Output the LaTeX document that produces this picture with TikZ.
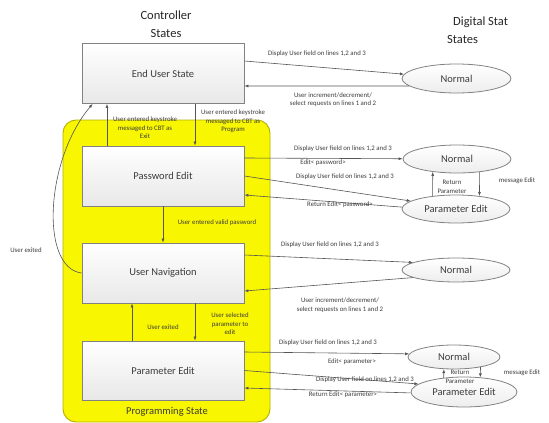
\documentclass[tikz,border=0pt]{standalone}
\usepackage{fontspec}
\setmainfont{Carlito}
\usetikzlibrary{arrows.meta,calc,shapes.geometric}

\definecolor{ylw}{RGB}{248,246,0}
\definecolor{ylwedge}{RGB}{180,176,0}
\definecolor{edge}{RGB}{130,130,130}
\definecolor{ink}{RGB}{60,60,60}
\definecolor{wire}{RGB}{85,85,85}

\begin{document}
\begin{tikzpicture}[x=1pt,y=-1pt,
  state/.style={draw=edge, line width=0.8pt, top color=white, bottom color=gray!18,
    minimum width=162pt, minimum height=60pt, inner sep=0pt,
    font=\fontsize{10.5}{12}\selectfont, text=ink},
  dstate/.style={ellipse, draw=edge, line width=0.8pt, top color=white, bottom color=gray!14,
    inner sep=0pt, font=\fontsize{10.5}{12}\selectfont, text=ink},
  arr/.style={draw=wire, line width=0.6pt, -{Latex[length=4pt,width=3pt]}},
  lbl/.style={font=\fontsize{6.8}{8.5}\selectfont, text=ink, align=center, inner sep=0pt},
  title/.style={font=\fontsize{12.5}{18}\selectfont, text=black!85, inner sep=0pt},
]
\useasboundingbox (0,0) rectangle (549,423);

% programming-state container
\path[fill=ylw, draw=ylwedge, line width=0.9pt, rounded corners=13pt] (63,120) rectangle (270,422);
\node[font=\fontsize{10.5}{12}\selectfont, text=ink, inner sep=0pt] (prog) at (167,412) {Programming State};

% headings
\node[title, align=center] (hctl) at (166,24) {Controller\\States};
\node[title, align=left, anchor=north west] (hdig) at (447,17) {\hspace{6pt}Digital Stat\\States};

% controller states
\node[state] (eus) at (163,73.5) {End User State};
\node[state] (pwd) at (163,176) {Password Edit};
\node[state] (nav) at (163,273) {User Navigation};
\node[state, minimum height=59pt] (par) at (163,370.5) {Parameter Edit};

% digital stat states
\node[dstate, minimum width=109pt, minimum height=29pt] (n1) at (456.5,78.5) {Normal};
\node[dstate, minimum width=108pt, minimum height=28pt] (n2) at (457,159) {Normal};
\node[dstate, minimum width=108pt, minimum height=28pt] (p2) at (456,209) {Parameter Edit};
\node[dstate, minimum width=108pt, minimum height=24pt] (n3) at (456,270) {Normal};
\node[dstate, minimum width=92pt, minimum height=24pt] (n4) at (454,357) {Normal};
\node[dstate, minimum width=106pt, minimum height=30pt] (p4) at (464,392) {Parameter Edit};

% transitions between controller states
\draw[arr] ([xshift=-56pt]pwd.north) -- ([xshift=-56pt]eus.south);
\draw[arr] ([xshift=32pt]eus.south) -- ([xshift=32pt]pwd.north);
\draw[arr] (pwd.south) -- (nav.north);
\draw[arr] ([xshift=-31pt]par.north) -- ([xshift=-31pt]nav.south);
\draw[arr] ([xshift=32pt]nav.south) -- ([xshift=32pt]par.north);
\draw[arr] (nav.west) .. controls (40,268) and (45,160) .. ([xshift=11pt]eus.south west);

% end user state <-> normal
\draw[arr] ([yshift=12.5pt]eus.east) -- (n1);
\draw[arr] (n1.189) -- ([yshift=-12.5pt]eus.east);

% password edit group
\draw[arr] ([yshift=18pt]pwd.east) -- (n2);
\draw[arr] (pwd.east) -- (p2.170);
\draw[arr] (p2.178) -- ([yshift=-19pt]pwd.east);
\draw[arr] (p2.151) -- (n2.-152);
\draw[arr] (n2.-30) -- (p2.29);

% user navigation group
\draw[arr] ([yshift=18pt]nav.east) -- (n3.170);
\draw[arr] (n3.190) -- ([yshift=-18pt]nav.east);

% parameter edit group
\draw[arr] ([yshift=18.5pt]par.east) -- (n4.176);
\draw[arr] (par.east) -- (p4.170);
\draw[arr] (p4.181) -- ([yshift=-17.5pt]par.east);
\draw[arr] (p4.145) -- (n4.-130);
\draw[arr] (n4.-21) -- (p4.42);

% labels
\node[lbl] (t1) at (145,128) {User entered keystroke\\messaged to CBT as\\Exit};
\node[lbl] (t2) at (233,121.5) {User entered keystroke\\messaged to CBT as\\Program};
\node[lbl] (t3) at (217,223) {User entered valid password};
\node[lbl] (t4) at (26,250) {User exited};
\node[lbl] (t5) at (163,327) {User exited};
\node[lbl] (t6) at (230,324) {User selected\\parameter to\\edit};

\node[lbl] (a1) at (317,54) {Display User field on lines 1,2 and 3};
\node[lbl] (a2) at (333,99.5) {User increment/decrement/\\select requests on lines 1 and 2};

\node[lbl] (b1) at (343,149) {Display User field on lines 1,2 and 3};
\node[lbl] (b2) at (323,163) {Edit< password>};
\node[lbl] (b3) at (345,177) {Display User field on lines 1,2 and 3};
\node[lbl] (b4) at (340,205) {Return Edit< password>};
\node[lbl] (b5) at (452,187) {Return\\Parameter};
\node[lbl] (b6) at (517,181) {message Edit};

\node[lbl] (c1) at (330,245) {Display User field on lines 1,2 and 3};
\node[lbl] (c2) at (340,305) {User increment/decrement/\\select requests on lines 1 and 2};

\node[lbl] (d1) at (328,343) {Display User field on lines 1,2 and 3};
\node[lbl] (d2) at (352,362) {Edit< parameter>};
\node[lbl] (d3) at (365,380) {Display User field on lines 1,2 and 3};
\node[lbl] (d4) at (343,395) {Return Edit< parameter>};
\node[lbl] (d5) at (460,377) {Return\\Parameter};
\node[lbl] (d6) at (522,373) {message Edit};
\end{tikzpicture}
\end{document}
